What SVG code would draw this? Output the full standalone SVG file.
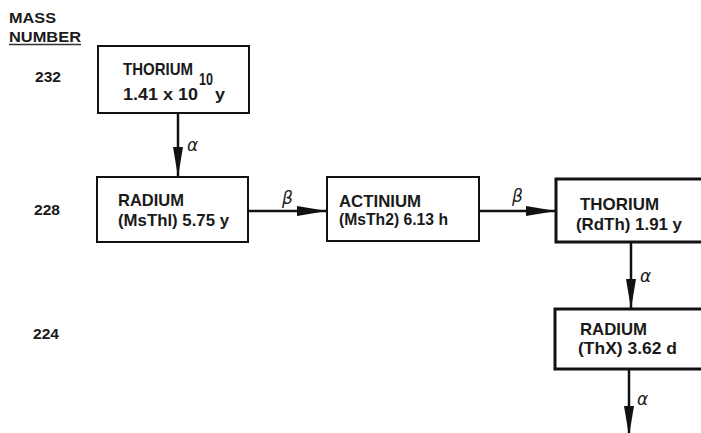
<svg xmlns="http://www.w3.org/2000/svg" width="701" height="433" viewBox="0 0 701 433">
<defs>
<marker id="ah" markerWidth="32" markerHeight="12" refX="30" refY="5" orient="auto" markerUnits="userSpaceOnUse">
<path d="M0,0 L30,5 L0,10 Z" fill="#111"/>
</marker>
<style>
.t{font-family:"Liberation Sans",Arial,sans-serif;font-weight:bold;font-size:17px;fill:#1a1a1a}
.h{font-family:"Liberation Sans",Arial,sans-serif;font-weight:bold;font-size:15px;fill:#1a1a1a}
.g{font-family:"DejaVu Sans","Liberation Sans",sans-serif;font-style:italic;font-size:17px;fill:#1a1a1a}
.box{fill:#fff;stroke:#111;stroke-width:2}
.thick{stroke-width:3}
.c{stroke:#111;stroke-width:2.5;fill:none}
</style>
</defs>
<rect width="701" height="433" fill="#fff"/>
<g id="axis">
<text class="h" x="9" y="23" textLength="47" lengthAdjust="spacingAndGlyphs">MASS</text>
<text class="h" x="9" y="42" textLength="72" lengthAdjust="spacingAndGlyphs">NUMBER</text>
<line x1="9" y1="44.5" x2="81" y2="44.5" stroke="#333" stroke-width="1.5"/>
<text class="h" x="35" y="82" textLength="26" lengthAdjust="spacingAndGlyphs">232</text>
<text class="h" x="34" y="215" textLength="26" lengthAdjust="spacingAndGlyphs">228</text>
<text class="h" x="33" y="339" textLength="26" lengthAdjust="spacingAndGlyphs">224</text>
</g>
<g id="connectors">
<line class="c" x1="178" y1="113" x2="178" y2="177" marker-end="url(#ah)"/>
<text class="g" x="187" y="151">α</text>
<line class="c" x1="248" y1="211" x2="327" y2="211" marker-end="url(#ah)"/>
<text class="g" x="282" y="204">β</text>
<line class="c" x1="479" y1="211" x2="556" y2="211" marker-end="url(#ah)"/>
<text class="g" x="512" y="202">β</text>
<line class="c" x1="631" y1="242" x2="631" y2="309" marker-end="url(#ah)"/>
<text class="g" x="640" y="282">α</text>
<line class="c" x1="629" y1="369" x2="629" y2="436" marker-end="url(#ah)"/>
<text class="g" x="637" y="405">α</text>
</g>
<g id="thorium232">
<rect class="box" x="98" y="46" width="151" height="67"/>
<text class="t" x="123" y="75" textLength="70" lengthAdjust="spacingAndGlyphs">THORIUM</text>
<text class="t" x="123" y="100" textLength="75" lengthAdjust="spacingAndGlyphs">1.41 x 10</text>
<text class="t" x="199" y="85" font-size="13" textLength="14" lengthAdjust="spacingAndGlyphs">10</text>
<text class="t" x="215" y="100" textLength="10" lengthAdjust="spacingAndGlyphs">y</text>
</g>
<g id="radium228">
<rect class="box" x="97" y="177" width="151" height="65"/>
<text class="t" x="118" y="206" textLength="66" lengthAdjust="spacingAndGlyphs">RADIUM</text>
<text class="t" x="118" y="226" textLength="111" lengthAdjust="spacingAndGlyphs">(MsThl) 5.75 y</text>
</g>
<g id="actinium228">
<rect class="box" x="327" y="177" width="152" height="64"/>
<text class="t" x="339" y="207" textLength="82" lengthAdjust="spacingAndGlyphs">ACTINIUM</text>
<text class="t" x="339" y="225" textLength="109" lengthAdjust="spacingAndGlyphs">(MsTh2) 6.13 h</text>
</g>
<g id="thorium228">
<rect class="box thick" x="556" y="179" width="150" height="63"/>
<text class="t" x="580" y="210" textLength="79" lengthAdjust="spacingAndGlyphs">THORIUM</text>
<text class="t" x="576" y="230" textLength="106" lengthAdjust="spacingAndGlyphs">(RdTh) 1.91 y</text>
</g>
<g id="radium224">
<rect class="box thick" x="555" y="309" width="151" height="60"/>
<text class="t" x="580" y="335" textLength="67" lengthAdjust="spacingAndGlyphs">RADIUM</text>
<text class="t" x="578" y="354" textLength="99" lengthAdjust="spacingAndGlyphs">(ThX) 3.62 d</text>
</g>
</svg>
